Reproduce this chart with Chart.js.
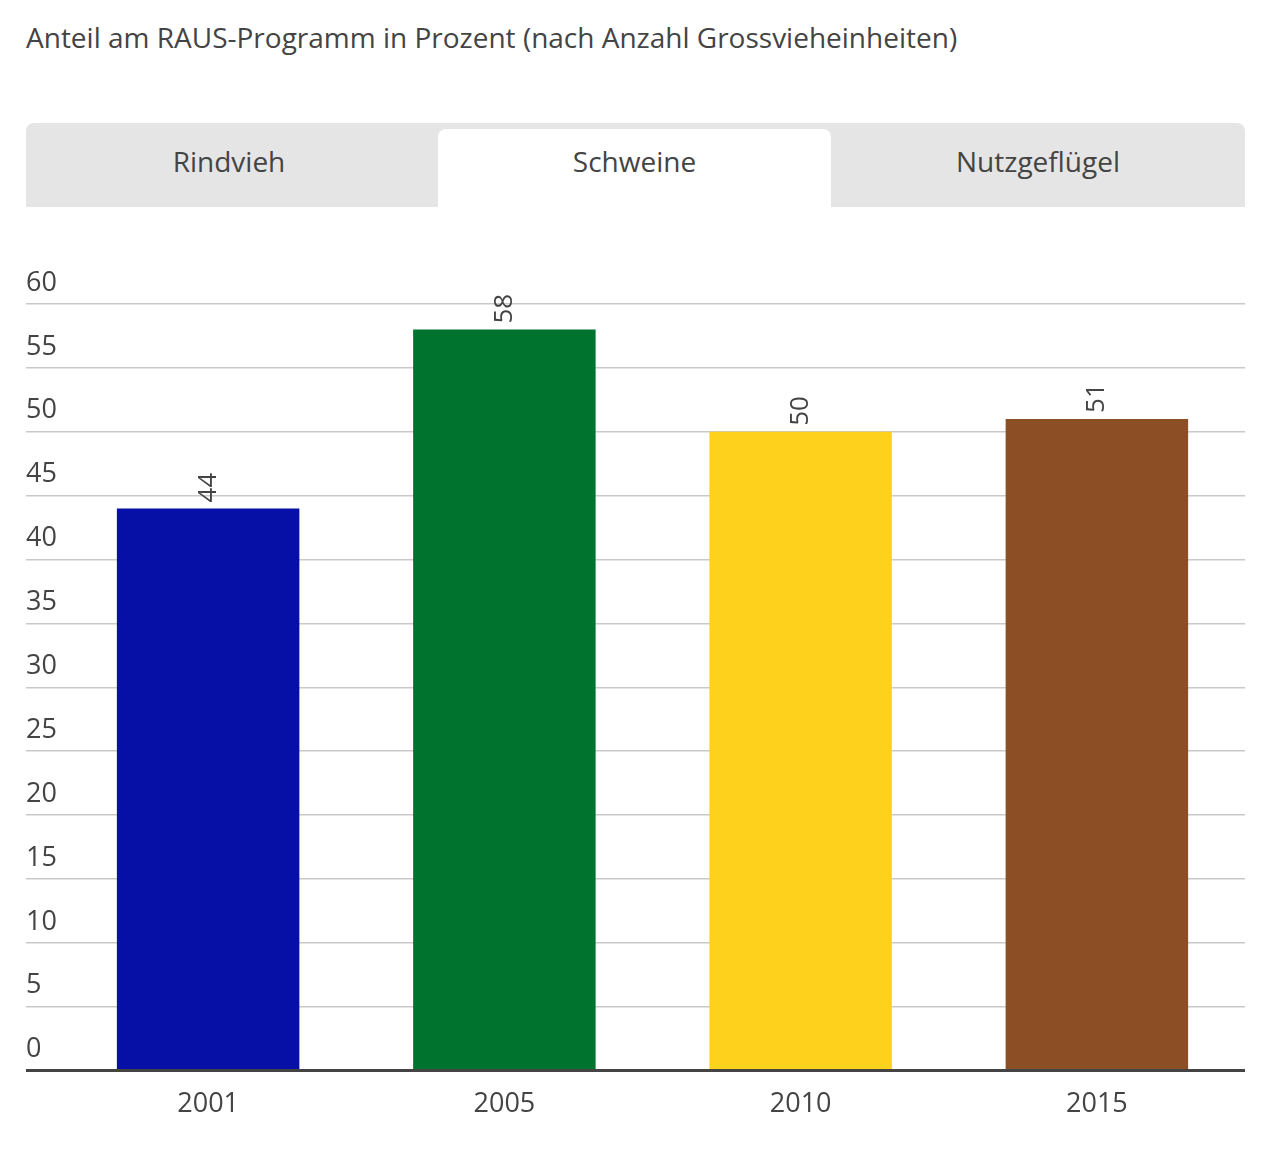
<!DOCTYPE html>
<html>
<head>
<meta charset="utf-8">
<script src="https://cdn.jsdelivr.net/npm/chart.js@4"></script>
<style>
  body { margin: 0; background: #fff; font-family: "Open Sans", sans-serif; color: #444; }
  #title { position: absolute; left: 26px; top: 17px; font-size: 28px; line-height: 40px; color: #444; }
  #tabs { position: absolute; left: 26px; top: 123px; width: 1219px; height: 84px; background: #e5e5e5; border-radius: 8px 8px 0 0; }
  .tab { position: absolute; top: 0; width: 406px; height: 84px; line-height: 76px; text-align: center; font-size: 28px; color: #444; }
  .tab.active { top: 6px; height: 78px; line-height: 64px; background: #fff; border-radius: 8px 8px 0 0; }
  #wrap { position: absolute; left: 26px; top: 250px; width: 1219px; height: 900px; }
</style>
</head>
<body>
<div id="title">Anteil am RAUS-Programm in Prozent (nach Anzahl Grossvieheinheiten)</div>
<div id="tabs">
  <div class="tab" style="left:0">Rindvieh</div>
  <div class="tab active" style="left:412px;width:393px">Schweine</div>
  <div class="tab" style="left:805px;width:414px">Nutzgeflügel</div>
</div>
<div id="wrap"><canvas id="bar-chart"></canvas></div>
<script>
const years = ["2001", "2005", "2010", "2015"];
const values = [44, 58, 50, 51];
const barColors = ["#0610a6", "#00732f", "#fed11c", "#8c4e24"];

var ctx = document.getElementById('bar-chart');

// value labels, rotated, just above each bar
const valueLabels = {
    id: 'valueLabels',
    afterDatasetsDraw(chart) {
        const c = chart.ctx;
        const meta = chart.getDatasetMeta(0);
        c.save();
        c.font = '26px "Open Sans"';
        c.fillStyle = '#444';
        c.textAlign = 'left';
        c.textBaseline = 'middle';
        meta.data.forEach((bar, i) => {
            c.save();
            c.translate(bar.x, bar.y - 6);
            c.rotate(-Math.PI / 2);
            c.fillText(String(values[i]), 0, 0);
            c.restore();
        });
        c.restore();
    }
};

var chart = new Chart(ctx, {
    type: 'bar',
    data: {
        labels: years,
        datasets: [{
            data: values,
            backgroundColor: barColors,
            borderWidth: 0,
            barPercentage: 0.616,
            categoryPercentage: 1
        }]
    },
    options: {
        responsive: true,
        maintainAspectRatio: false,
        animation: false,
        layout: { padding: { top: 54, bottom: 19, left: 0, right: 0 } },
        plugins: {
            legend: { display: false },
            tooltip: { enabled: false }
        },
        scales: {
            x: {
                grid: { display: false },
                border: { display: false },
                ticks: {
                    color: '#444',
                    font: { family: 'Open Sans', size: 27 },
                    padding: 10
                }
            },
            y: {
                min: 0,
                max: 60,
                afterFit: (scale) => { scale.width = 34; },
                border: { display: false },
                grid: {
                    color: (c) => c.tick && c.tick.value === 0 ? '#444' : '#c9c9c9',
                    lineWidth: (c) => c.tick && c.tick.value === 0 ? 3 : 1.5,
                    tickLength: 34
                },
                ticks: {
                    stepSize: 5,
                    mirror: true,
                    padding: -34,
                    labelOffset: -21,
                    color: '#444',
                    font: { family: 'Open Sans', size: 27 }
                }
            }
        }
    },
    plugins: [valueLabels]
});
</script>
</body>
</html>
